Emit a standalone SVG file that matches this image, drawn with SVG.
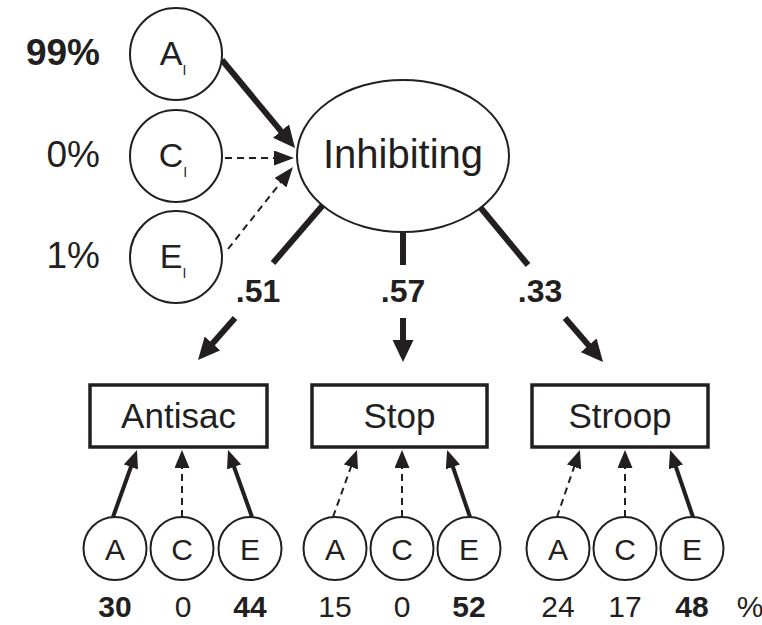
<svg xmlns="http://www.w3.org/2000/svg" width="762" height="625" viewBox="0 0 762 625">
<style>
text{font-family:"Liberation Sans",Arial,sans-serif;fill:#231f20}
.node{fill:#fff;stroke:#231f20;stroke-width:2}
.box{fill:#fff;stroke:#231f20;stroke-width:3.5}
.thick{stroke:#231f20;stroke-width:6;fill:none}
.solid{stroke:#231f20;stroke-width:4;fill:none}
.dash{stroke:#231f20;stroke-width:2;fill:none;stroke-dasharray:7 5}
.lbl{font-size:37px;text-anchor:end}
.coef{font-size:32px;font-weight:bold;text-anchor:middle}
.num{font-size:30px;text-anchor:middle}
.b{font-weight:bold}
</style>
<defs>
<marker id="big" markerUnits="userSpaceOnUse" markerWidth="22" markerHeight="21" refX="12" refY="10.5" orient="auto">
<path d="M0,0 L22,10.5 L0,21 z" fill="#231f20"/>
</marker>
<marker id="thin" markerUnits="userSpaceOnUse" markerWidth="20" markerHeight="15" refX="17" refY="7.5" orient="auto">
<path d="M0,0 L20,7.5 L0,15 z" fill="#231f20"/>
</marker>
<marker id="mid" markerUnits="userSpaceOnUse" markerWidth="18" markerHeight="15" refX="10" refY="7.5" orient="auto">
<path d="M0,0 L18,7.5 L0,15 z" fill="#231f20"/>
</marker>
</defs>

<g id="connectors">
<line class="thick" x1="222" y1="60" x2="288.6" y2="140.3" marker-end="url(#big)"/>
<line class="dash" x1="225" y1="158" x2="291" y2="158" marker-end="url(#thin)"/>
<line class="dash" x1="228" y1="249" x2="291.1" y2="169.4" marker-end="url(#thin)"/>

<line class="thick" x1="323" y1="205" x2="273" y2="263"/>
<line class="thick" x1="235" y1="318" x2="204.6" y2="352.5" marker-end="url(#big)"/>
<line class="thick" x1="403" y1="232" x2="403" y2="265"/>
<line class="thick" x1="403" y1="318" x2="403" y2="352" marker-end="url(#big)"/>
<line class="thick" x1="480" y1="207" x2="528" y2="265"/>
<line class="thick" x1="565" y1="318" x2="596.5" y2="354.4" marker-end="url(#big)"/>

<line class="solid" x1="113" y1="517" x2="134.3" y2="457.5" marker-end="url(#mid)"/>
<line class="dash" x1="182" y1="517" x2="182" y2="458" marker-end="url(#mid)"/>
<line class="solid" x1="252" y1="517" x2="230.7" y2="457.5" marker-end="url(#mid)"/>

<line class="dash" x1="333" y1="517" x2="354.3" y2="457.5" marker-end="url(#mid)"/>
<line class="dash" x1="402" y1="517" x2="402" y2="458" marker-end="url(#mid)"/>
<line class="solid" x1="470" y1="517" x2="449.7" y2="457.5" marker-end="url(#mid)"/>

<line class="dash" x1="557" y1="517" x2="577.3" y2="457.5" marker-end="url(#mid)"/>
<line class="dash" x1="625" y1="517" x2="625" y2="458" marker-end="url(#mid)"/>
<line class="solid" x1="693" y1="517" x2="672.7" y2="457.5" marker-end="url(#mid)"/>
</g>

<g id="labels-top">
<text class="lbl b" x="100" y="65">99%</text>
<text class="lbl" x="100" y="167">0%</text>
<text class="lbl" x="100" y="268">1%</text>
</g>

<g id="AI"><circle class="node" cx="176" cy="54" r="46"/><text x="173" y="65" font-size="34" text-anchor="middle">A<tspan font-size="14" dy="10">I</tspan></text></g>
<g id="CI"><circle class="node" cx="176" cy="156" r="46"/><text x="173" y="167" font-size="34" text-anchor="middle">C<tspan font-size="14" dy="10">I</tspan></text></g>
<g id="EI"><circle class="node" cx="176" cy="257" r="46"/><text x="173" y="268" font-size="34" text-anchor="middle">E<tspan font-size="14" dy="10">I</tspan></text></g>

<g id="Inhibiting"><ellipse class="node" cx="403" cy="156" rx="106" ry="76"/><text x="403" y="168" font-size="40" text-anchor="middle">Inhibiting</text></g>

<g id="coefs">
<text class="coef" x="258" y="302">.51</text>
<text class="coef" x="403" y="302">.57</text>
<text class="coef" x="540" y="302">.33</text>
</g>

<g id="Antisac"><rect class="box" x="90" y="385" width="177" height="62"/><text x="178.5" y="428" font-size="35" text-anchor="middle">Antisac</text></g>
<g id="Stop"><rect class="box" x="312" y="385" width="175" height="62"/><text x="399.5" y="428" font-size="35" text-anchor="middle">Stop</text></g>
<g id="Stroop"><rect class="box" x="532" y="385" width="176" height="62"/><text x="620" y="428" font-size="35" text-anchor="middle">Stroop</text></g>

<g id="A1"><circle class="node" cx="115" cy="548.5" r="31.5"/><text x="115" y="560" font-size="30" text-anchor="middle">A</text></g>
<g id="C1"><circle class="node" cx="182" cy="548.5" r="31.5"/><text x="182" y="560" font-size="30" text-anchor="middle">C</text></g>
<g id="E1"><circle class="node" cx="250" cy="548.5" r="31.5"/><text x="250" y="560" font-size="30" text-anchor="middle">E</text></g>
<g id="A2"><circle class="node" cx="335" cy="548.5" r="31.5"/><text x="335" y="560" font-size="30" text-anchor="middle">A</text></g>
<g id="C2"><circle class="node" cx="402" cy="548.5" r="31.5"/><text x="402" y="560" font-size="30" text-anchor="middle">C</text></g>
<g id="E2"><circle class="node" cx="469" cy="548.5" r="31.5"/><text x="469" y="560" font-size="30" text-anchor="middle">E</text></g>
<g id="A3"><circle class="node" cx="558" cy="548.5" r="31.5"/><text x="558" y="560" font-size="30" text-anchor="middle">A</text></g>
<g id="C3"><circle class="node" cx="625" cy="548.5" r="31.5"/><text x="625" y="560" font-size="30" text-anchor="middle">C</text></g>
<g id="E3"><circle class="node" cx="692" cy="548.5" r="31.5"/><text x="692" y="560" font-size="30" text-anchor="middle">E</text></g>

<g id="numbers">
<text class="num b" x="115" y="617">30</text>
<text class="num" x="183" y="617">0</text>
<text class="num b" x="250" y="617">44</text>
<text class="num" x="335" y="617">15</text>
<text class="num" x="402" y="617">0</text>
<text class="num b" x="469" y="617">52</text>
<text class="num" x="558" y="617">24</text>
<text class="num" x="625" y="617">17</text>
<text class="num b" x="692" y="617">48</text>
<text class="num" x="750" y="617">%</text>
</g>
</svg>
